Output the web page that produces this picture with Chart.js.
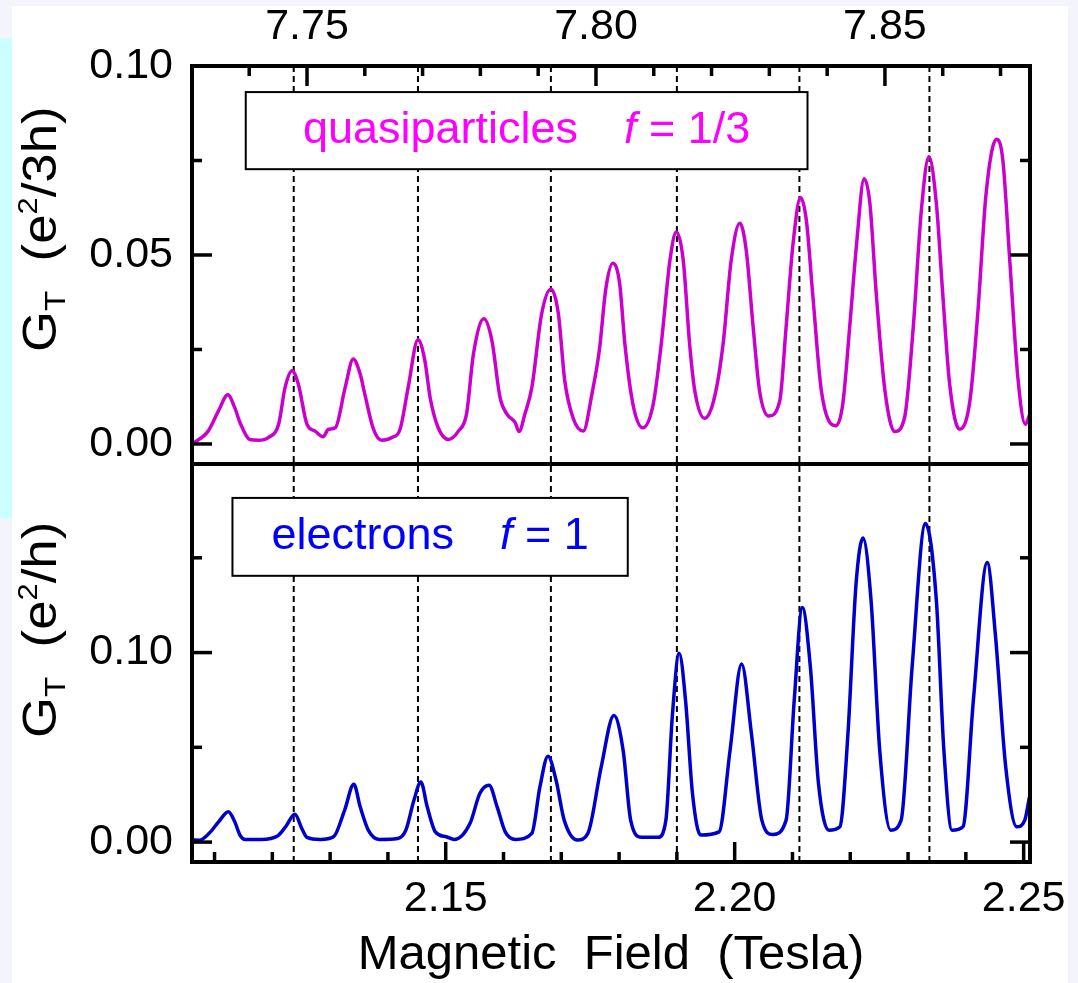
<!DOCTYPE html>
<html>
<head>
<meta charset="utf-8">
<title>Conductance oscillations</title>
<script src="https://cdn.jsdelivr.net/npm/chart.js@4.4.1/dist/chart.umd.min.js"></script>
<style>
  html, body { margin: 0; padding: 0; }
  body { width: 1078px; height: 983px; background: #f4f4fc; position: relative; overflow: hidden; }
  .sheet { position: absolute; left: 12px; top: 6px; width: 1056px; height: 977px; background: #fff; }
  .strip { position: absolute; left: 0; top: 38px; width: 12px; height: 480px; background: #ccffff; }
  canvas { position: absolute; left: 0; top: 0; }
</style>
</head>
<body>
<div class="sheet"></div>
<div class="strip"></div>
<canvas id="chart" width="1078" height="983"></canvas>
<script>
// Tunnelling conductance vs field, f = 1/3 (top) and f = 1 (bottom)
const quasiField = [2.1061, 2.1089, 2.1107, 2.1123, 2.1135, 2.1144, 2.1161, 2.1176, 2.1193, 2.1211,
  2.1222, 2.1234, 2.1245, 2.1260, 2.1274, 2.1288, 2.1297, 2.1309, 2.1326, 2.1340,
  2.1352, 2.1360, 2.1375, 2.1389, 2.1407, 2.1421, 2.1435, 2.1452, 2.1464, 2.1473,
  2.1487, 2.1505, 2.1522, 2.1536, 2.1548, 2.1566, 2.1580, 2.1594, 2.1606, 2.1620,
  2.1627, 2.1637, 2.1649, 2.1666, 2.1682, 2.1695, 2.1706, 2.1721, 2.1738, 2.1753,
  2.1766, 2.1777, 2.1789, 2.1801, 2.1810, 2.1824, 2.1841, 2.1859, 2.1873, 2.1888,
  2.1899, 2.1911, 2.1922, 2.1931, 2.1948, 2.1965, 2.1980, 2.1994, 2.2009, 2.2020,
  2.2032, 2.2043, 2.2059, 2.2078, 2.2089, 2.2101, 2.2114, 2.2124, 2.2135, 2.2150,
  2.2175, 2.2187, 2.2199, 2.2211, 2.2224, 2.2234, 2.2245, 2.2260, 2.2277, 2.2294,
  2.2309, 2.2323, 2.2336, 2.2349, 2.2360, 2.2372, 2.2389, 2.2407, 2.2421, 2.2435,
  2.2453, 2.2464, 2.2476, 2.2490, 2.2503, 2.2510];
const quasiG = [0.0000, 0.0034, 0.0088, 0.0130, 0.0096, 0.0057, 0.0012, 0.0010, 0.0017, 0.0053,
  0.0149, 0.0194, 0.0158, 0.0052, 0.0034, 0.0019, 0.0039, 0.0043, 0.0149, 0.0225,
  0.0185, 0.0132, 0.0039, 0.0010, 0.0017, 0.0039, 0.0149, 0.0276, 0.0220, 0.0123,
  0.0043, 0.0012, 0.0034, 0.0079, 0.0238, 0.0331, 0.0273, 0.0123, 0.0079, 0.0057,
  0.0033, 0.0079, 0.0149, 0.0344, 0.0410, 0.0344, 0.0167, 0.0066, 0.0034, 0.0132,
  0.0250, 0.0410, 0.0478, 0.0424, 0.0265, 0.0105, 0.0043, 0.0105, 0.0265, 0.0486,
  0.0561, 0.0486, 0.0265, 0.0141, 0.0068, 0.0123, 0.0265, 0.0486, 0.0584, 0.0512,
  0.0309, 0.0141, 0.0074, 0.0114, 0.0309, 0.0530, 0.0652, 0.0592, 0.0397, 0.0141,
  0.0048, 0.0105, 0.0309, 0.0530, 0.0702, 0.0636, 0.0397, 0.0141, 0.0033, 0.0070,
  0.0309, 0.0618, 0.0760, 0.0636, 0.0397, 0.0158, 0.0039, 0.0114, 0.0353, 0.0662,
  0.0806, 0.0751, 0.0486, 0.0176, 0.0052, 0.0076];

const electronField = [2.1061, 2.1074, 2.1093, 2.1107, 2.1124, 2.1135, 2.1144, 2.1153, 2.1181, 2.1209,
  2.1223, 2.1239, 2.1251, 2.1260, 2.1283, 2.1306, 2.1325, 2.1341, 2.1352, 2.1366,
  2.1385, 2.1417, 2.1431, 2.1445, 2.1457, 2.1468, 2.1482, 2.1501, 2.1515, 2.1542,
  2.1559, 2.1575, 2.1589, 2.1603, 2.1621, 2.1649, 2.1663, 2.1677, 2.1691, 2.1705,
  2.1728, 2.1746, 2.1769, 2.1791, 2.1807, 2.1820, 2.1839, 2.1867, 2.1881, 2.1892,
  2.1904, 2.1915, 2.1927, 2.1941, 2.1973, 2.1992, 2.2012, 2.2029, 2.2047, 2.2066,
  2.2089, 2.2103, 2.2117, 2.2131, 2.2145, 2.2163, 2.2182, 2.2196, 2.2210, 2.2222,
  2.2236, 2.2251, 2.2270, 2.2288, 2.2307, 2.2330, 2.2349, 2.2362, 2.2376, 2.2395,
  2.2413, 2.2437, 2.2451, 2.2469, 2.2488, 2.2502, 2.2510];
const electronG = [0.0011, 0.0010, 0.0054, 0.0107, 0.0160, 0.0107, 0.0037, 0.0014, 0.0014, 0.0032,
  0.0081, 0.0147, 0.0072, 0.0025, 0.0014, 0.0028, 0.0168, 0.0305, 0.0186, 0.0063,
  0.0014, 0.0019, 0.0063, 0.0221, 0.0317, 0.0186, 0.0054, 0.0028, 0.0014, 0.0098,
  0.0256, 0.0300, 0.0186, 0.0054, 0.0014, 0.0046, 0.0291, 0.0453, 0.0326, 0.0116,
  0.0011, 0.0046, 0.0396, 0.0668, 0.0484, 0.0116, 0.0025, 0.0025, 0.0116, 0.0660,
  0.0996, 0.0747, 0.0256, 0.0037, 0.0054, 0.0484, 0.0940, 0.0572, 0.0116, 0.0040,
  0.0116, 0.0747, 0.1238, 0.0923, 0.0309, 0.0063, 0.0081, 0.0572, 0.1362, 0.1604,
  0.1274, 0.0484, 0.0063, 0.0116, 0.0923, 0.1681, 0.1274, 0.0484, 0.0063, 0.0081,
  0.0747, 0.1475, 0.1098, 0.0396, 0.0081, 0.0116, 0.0238];

// Axis ticks
const fieldTicks = [2.15, 2.20, 2.25];
const fieldMinorTicks = [2.11, 2.12, 2.13, 2.14, 2.16, 2.17, 2.18, 2.19, 2.21, 2.22, 2.23, 2.24];
const topFieldTicks = [7.75, 7.80, 7.85];
const topFieldMinorTicks = [7.74, 7.76, 7.77, 7.78, 7.79, 7.81, 7.82, 7.83, 7.84, 7.86, 7.87];
const quasiTicks = [0.00, 0.05, 0.10];
const quasiMinorTicks = [0.025, 0.075];
const electronTicks = [0.00, 0.10];
const electronMinorTicks = [0.05, 0.15];

// Dashed markers through both panels
const peakFields = [2.1237, 2.1452, 2.1682, 2.1900, 2.2112, 2.2337];

const FONT = "'Liberation Sans', Arial, Helvetica, sans-serif";
Chart.defaults.font.family = FONT;
Chart.defaults.color = '#000';

function fixedTicks(values) {
    return scale => { scale.ticks = values.map(v => ({ value: v })); };
}

function line(ctx, x1, y1, x2, y2) {
    ctx.beginPath();
    ctx.moveTo(x1, y1);
    ctx.lineTo(x2, y2);
    ctx.stroke();
}

// Inward tick marks on the frame
function drawTickMarks(ctx, area, scale, values, len) {
    values.forEach(v => {
        const p = scale.getPixelForValue(v);
        if (scale.isHorizontal()) {
            if (scale.position === 'top') line(ctx, p, area.top, p, area.top + len);
            else line(ctx, p, area.bottom, p, area.bottom - len);
        } else {
            line(ctx, area.left, p, area.left + len, p);
            line(ctx, area.right, p, area.right - len, p);
        }
    });
}

// Rotated axis title with sub/superscripts, slightly widened along the text
function drawRotatedTitle(ctx, x, y, parts) {
    ctx.save();
    ctx.translate(x, y);
    ctx.rotate(-Math.PI / 2);
    ctx.scale(1.1, 1);
    ctx.fillStyle = '#000';
    ctx.textBaseline = 'alphabetic';
    let cx = 0;
    parts.forEach(p => {
        ctx.font = `${p.size}px ${FONT}`;
        ctx.fillText(p.text, cx, p.dy || 0);
        cx += ctx.measureText(p.text).width;
    });
    ctx.restore();
}

// Label box: white fill, thin black border, coloured text centred
function drawLabelBox(ctx, xs, ys, box, color) {
    const left = xs.getPixelForValue(box.x0), right = xs.getPixelForValue(box.x1);
    const top = ys.getPixelForValue(box.y1), bottom = ys.getPixelForValue(box.y0);
    ctx.save();
    ctx.fillStyle = '#fff';
    ctx.fillRect(left, top, right - left, bottom - top);
    ctx.strokeStyle = '#000';
    ctx.lineWidth = 2;
    ctx.strokeRect(left, top, right - left, bottom - top);

    ctx.fillStyle = color;
    ctx.textBaseline = 'alphabetic';
    const plain = `45px ${FONT}`, ital = `italic 45px ${FONT}`;
    ctx.font = plain;
    const wName = ctx.measureText(box.name).width;
    const wRest = ctx.measureText(box.rest).width;
    ctx.font = ital;
    const wF = ctx.measureText('f').width;
    const gap = 46;
    let x = (left + right) / 2 - (wName + gap + wF + wRest) / 2;
    const base = (top + bottom) / 2 + 12;
    ctx.font = plain;
    ctx.fillText(box.name, x, base);
    x += wName + gap;
    ctx.font = ital;
    ctx.fillText('f', x, base);
    x += wF;
    ctx.font = plain;
    ctx.fillText(box.rest, x, base);
    ctx.restore();
}

const quasiBox = { x0: 2.1154, x1: 2.2126, y0: 0.0727, y1: 0.0931, name: 'quasiparticles', rest: ' = 1/3' };
const electronBox = { x0: 2.1131, x1: 2.1815, y0: 0.1405, y1: 0.1816, name: 'electrons', rest: ' = 1' };

const framePlugin = {
    id: 'frame',
    beforeDatasetsDraw(chart) {
        const { ctx, chartArea, scales } = chart;
        ctx.save();
        ctx.strokeStyle = '#000';
        ctx.lineWidth = 2;
        ctx.setLineDash([6, 4]);
        peakFields.forEach(b => {
            const x = scales.x.getPixelForValue(b);
            line(ctx, x, chartArea.top, x, chartArea.bottom);
        });
        ctx.restore();
    },
    afterDatasetsDraw(chart) {
        const { ctx, chartArea, scales } = chart;
        drawLabelBox(ctx, scales.x, scales.yTop, quasiBox, '#ff00ff');
        drawLabelBox(ctx, scales.x, scales.yBot, electronBox, '#0000ff');

        ctx.save();
        ctx.strokeStyle = '#000';
        ctx.lineWidth = 3.5;
        ctx.lineCap = 'butt';
        drawTickMarks(ctx, chartArea, scales.x, fieldTicks, 20);
        drawTickMarks(ctx, chartArea, scales.x, fieldMinorTicks, 10);
        drawTickMarks(ctx, chartArea, scales.xTop, topFieldTicks, 20);
        drawTickMarks(ctx, chartArea, scales.xTop, topFieldMinorTicks, 10);
        drawTickMarks(ctx, chartArea, scales.yTop, quasiTicks, 20);
        drawTickMarks(ctx, chartArea, scales.yTop, quasiMinorTicks, 10);
        drawTickMarks(ctx, chartArea, scales.yBot, electronTicks, 20);
        drawTickMarks(ctx, chartArea, scales.yBot, electronMinorTicks, 10);

        ctx.lineWidth = 4;
        ctx.strokeRect(chartArea.left, chartArea.top, chartArea.width, chartArea.height);
        line(ctx, chartArea.left, scales.yTop.bottom, chartArea.right, scales.yTop.bottom);
        ctx.restore();

        drawRotatedTitle(ctx, 56, 352, [
            { text: 'G', size: 48 },
            { text: 'T', size: 30, dy: 9 },
            { text: '  (e', size: 48 },
            { text: '2', size: 28, dy: -19 },
            { text: '/3h)', size: 48 }
        ]);
        drawRotatedTitle(ctx, 56, 738, [
            { text: 'G', size: 48 },
            { text: 'T', size: 30, dy: 9 },
            { text: '  (e', size: 48 },
            { text: '2', size: 28, dy: -19 },
            { text: '/h)', size: 48 }
        ]);
    }
};

const tickFont = { size: 43 };
const noGrid = { display: false, drawTicks: false };

new Chart(document.getElementById('chart'), {
    type: 'line',
    data: {
        datasets: [
            {
                label: 'quasiparticles f = 1/3',
                data: quasiField.map((b, i) => ({ x: b, y: quasiG[i] })),
                xAxisID: 'x',
                yAxisID: 'yTop',
                borderColor: '#cc00cc',
                borderWidth: 3.5,
                pointRadius: 0,
                cubicInterpolationMode: 'monotone'
            },
            {
                label: 'electrons f = 1',
                data: electronField.map((b, i) => ({ x: b, y: electronG[i] })),
                xAxisID: 'x',
                yAxisID: 'yBot',
                borderColor: '#0000cc',
                borderWidth: 3.5,
                pointRadius: 0,
                cubicInterpolationMode: 'monotone'
            }
        ]
    },
    options: {
        responsive: false,
        animation: false,
        devicePixelRatio: 1,
        layout: { padding: { left: 0, top: 0, right: 48, bottom: 0 } },
        plugins: {
            legend: { display: false },
            tooltip: { enabled: false }
        },
        scales: {
            x: {
                type: 'linear',
                position: 'bottom',
                min: 2.1061,
                max: 2.2511,
                afterBuildTicks: fixedTicks(fieldTicks),
                afterFit: s => { s.height = 121; s.paddingLeft = 0; s.paddingRight = 0; },
                ticks: { font: tickFont, padding: 11, maxRotation: 0, autoSkip: false, callback: v => v.toFixed(2) },
                grid: noGrid,
                border: { display: false },
                title: {
                    display: true,
                    text: 'Magnetic  Field  (Tesla)',
                    font: { size: 49 },
                    padding: { top: 0, bottom: -2 }
                }
            },
            xTop: {
                type: 'linear',
                position: 'top',
                min: 7.7301,
                max: 7.8751,
                afterBuildTicks: fixedTicks(topFieldTicks),
                afterFit: s => { s.height = 66; s.paddingLeft = 0; s.paddingRight = 0; },
                ticks: { font: tickFont, padding: 13, maxRotation: 0, autoSkip: false, callback: v => v.toFixed(2) },
                grid: noGrid,
                border: { display: false }
            },
            yTop: {
                type: 'linear',
                position: 'left',
                stack: 'panels',
                stackWeight: 1,
                weight: 1,
                min: -0.0053,
                max: 0.10,
                afterBuildTicks: fixedTicks(quasiTicks),
                afterFit: s => { s.width = 192; s.paddingTop = 0; s.paddingBottom = 0; },
                ticks: { font: tickFont, padding: 19, autoSkip: false, callback: v => v.toFixed(2) },
                grid: noGrid,
                border: { display: false }
            },
            yBot: {
                type: 'linear',
                position: 'left',
                stack: 'panels',
                stackWeight: 1,
                weight: 0,
                min: -0.0105,
                max: 0.1995,
                afterBuildTicks: fixedTicks(electronTicks),
                afterFit: s => { s.width = 192; s.paddingTop = 0; s.paddingBottom = 0; },
                ticks: { font: tickFont, padding: 19, autoSkip: false, callback: v => v.toFixed(2) },
                grid: noGrid,
                border: { display: false }
            }
        }
    },
    plugins: [framePlugin]
});
</script>
</body>
</html>
